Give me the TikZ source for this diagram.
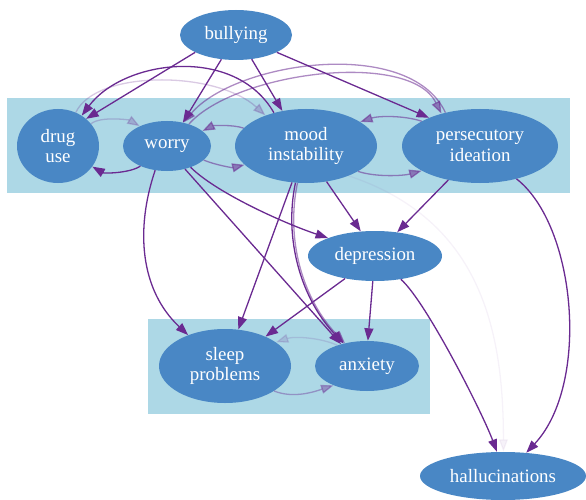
\documentclass[tikz,border=0pt]{standalone}
\usepackage{fontspec}
\setmainfont{Liberation Serif}
\usetikzlibrary{shapes.geometric,arrows.meta}
\definecolor{nodeblue}{RGB}{73,135,197}
\definecolor{clusterblue}{RGB}{173,216,230}
\definecolor{edgepurple}{RGB}{106,42,145}
\begin{document}
\begin{tikzpicture}[x=1pt,y=-1pt,
  vnode/.style={ellipse, fill=nodeblue, draw=none, inner sep=0pt, text=white, align=center,
    font=\fontsize{18.9}{20.5}\selectfont},
  cluster/.style={rectangle, fill=clusterblue, draw=none, inner sep=0pt},
  dk/.style={draw=edgepurple, line width=1.3pt, -{Triangle[length=12.5pt,width=9pt]}},
  md/.style={dk, opacity=0.55},
  ml/.style={dk, opacity=0.4},
  lt/.style={dk, opacity=0.25},
  vl/.style={dk, opacity=0.16},
  fnt/.style={dk, opacity=0.06}]
\useasboundingbox (0,0) rectangle (586,500);
% clusters
\node[cluster, minimum width=563pt, minimum height=95pt] (ctop) at (288.5,145.5) {};
\node[cluster, minimum width=282pt, minimum height=95pt] (cbot) at (289,366.5) {};
% nodes
\node[vnode, minimum width=112pt, minimum height=50pt] (bul) at (236,35) {bullying};
\node[vnode, minimum width=82pt, minimum height=74pt] (drug) at (58,146) {drug\\use};
\node[vnode, minimum width=88pt, minimum height=50pt] (wor) at (167,146) {worry};
\node[vnode, minimum width=142pt, minimum height=74pt] (mood) at (306,146) {mood\\instability};
\node[vnode, minimum width=156pt, minimum height=74pt] (pers) at (480,146) {persecutory\\ideation};
\node[vnode, minimum width=134pt, minimum height=50pt] (dep) at (375,256) {depression};
\node[vnode, minimum width=132pt, minimum height=74pt] (slp) at (225,366) {sleep\\problems};
\node[vnode, minimum width=104pt, minimum height=50pt] (anx) at (367,366) {anxiety};
\node[vnode, minimum width=166pt, minimum height=48pt] (hal) at (503,476) {hallucinations};
% edges
\draw[dk] (bul.203) -- (drug.44);
\draw[dk] (mood.134) .. controls +(-39,-68) and +(42,-56) .. (drug.52);
\draw[lt] (drug.62) .. controls +(20,-43) and +(-49,-45) .. (mood.143);
\draw[lt] (drug.34) .. controls +(10,-8) and +(-10,-6) .. (wor.144);
\draw[dk] (wor.217) .. controls +(-10,7) and +(12,7) .. (drug.329);
\draw[dk] (bul.239) -- (wor.56);
\draw[dk] (bul.303) -- (mood.124);
\draw[dk] (bul.337) -- (pers.151);
\draw[md] (pers.136) .. controls +(-36,-77) and +(52,-61) .. (wor.55);
\draw[md] (wor.45) .. controls +(46,-52) and +(-32,-64) .. (pers.140);
\draw[md] (mood.164) .. controls +(-12,-4) and +(10,-5) .. (wor.23);
\draw[md] (wor.339) .. controls +(12,5) and +(-12,3) .. (mood.197);
\draw[md] (pers.157) .. controls +(-18,-6) and +(18,-6) .. (mood.24);
\draw[md] (mood.334) .. controls +(18,6) and +(-18,5) .. (pers.203);
\draw[dk] (mood.300) -- (dep.120);
\draw[dk] (pers.227) -- (dep.47);
\draw[dk] (wor.318) .. controls +(25,25) and +(-45,-15) .. (dep.159);
\draw[dk] (wor.308) -- (anx.140);
\draw[dk] (wor.244) .. controls +(-20,59) and +(-48,-45) .. (slp.140);
\draw[dk] (mood.249) -- (slp.70);
\draw[dk] (mood.254) .. controls +(-12,57) and +(-42,-44) .. (anx.136);
\draw[md] (mood.257) .. controls +(-12,57) and +(-42,-44) .. (anx.134);
\draw[dk] (dep.217) -- (slp.36);
\draw[dk] (dep.265) -- (anx.88);
\draw[dk] (dep.318) .. controls +(25,22) and +(-15,-40) .. (hal.104);
\draw[dk] (pers.318) .. controls +(60,47) and +(64,-68) .. (hal.45);
\draw[fnt] (mood.325) .. controls +(132,44) and +(0,-122) .. (hal.89);
\draw[vl] (anx.145) .. controls +(-18,-8) and +(18,-6) .. (slp.25);
\draw[ml] (slp.333) .. controls +(20,8) and +(-18,6) .. (anx.210);
\end{tikzpicture}
\end{document}
